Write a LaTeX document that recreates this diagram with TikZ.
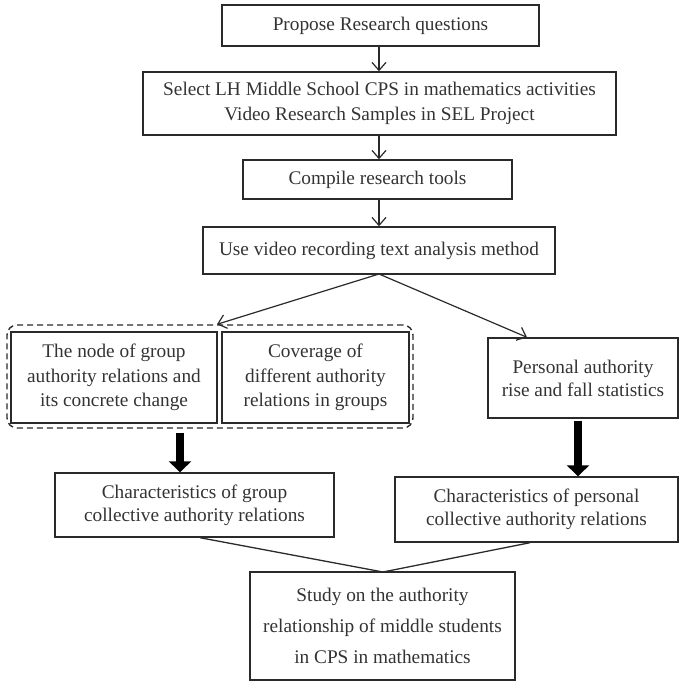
\documentclass[tikz,border=0pt]{standalone}
\usepackage{fontspec}
\setmainfont{Liberation Serif}
\usetikzlibrary{arrows.meta}
\definecolor{ink}{HTML}{2A2A2A}
\definecolor{txt}{HTML}{333333}
\begin{document}
\begin{tikzpicture}[x=1pt,y=-1pt,
  box/.style={draw=ink,line width=1.4pt,inner sep=0pt,align=center,text=txt,
    font=\fontsize{19.3}{24.5}\selectfont},
  thin/.style={draw=ink,line width=1.2pt,-{Straight Barb[length=8pt,width=14pt,line width=1.2pt]}},
  fat/.style={draw=black,line width=8pt,-{Triangle[length=11pt,width=22pt]}},
  plain/.style={draw=ink,line width=1.3pt}]
\useasboundingbox (0,0) rectangle (679,681);
\node[box,minimum width=317pt,minimum height=41pt] (b1) at (380.5,25.5) {Propose Research questions};
\node[box,minimum width=473pt,minimum height=63pt] (b2) at (379.5,103.5) {Select LH Middle School CPS in mathematics activities\\Video Research Samples in SEL Project};
\node[box,minimum width=269pt,minimum height=39pt] (b3) at (377.5,179.5) {Compile research tools};
\node[box,minimum width=352pt,minimum height=47pt] (b4) at (379,250.5) {Use video recording text analysis method};
\node[draw=ink,line width=1.4pt,dashed,dash pattern=on 6pt off 4pt,rounded corners=10pt,minimum width=406pt,minimum height=103pt,inner sep=0pt] (grp) at (210,376.5) {};
\node[box,minimum width=206pt,minimum height=91pt] (g1) at (114,377.5) {The node of group\\authority relations and\\its concrete change};
\node[box,minimum width=187pt,minimum height=91pt] (g2) at (315.5,377.5) {Coverage of\\different authority\\relations in groups};
\node[box,minimum width=190pt,minimum height=80pt,font=\fontsize{19.3}{23}\selectfont] (p1) at (583,378) {Personal authority\\rise and fall statistics};
\node[box,minimum width=279pt,minimum height=64pt,font=\fontsize{19.3}{23}\selectfont] (c1) at (194.5,505) {Characteristics of group\\collective authority relations};
\node[box,minimum width=283pt,minimum height=65pt,font=\fontsize{19.3}{23}\selectfont] (c2) at (536.5,509.5) {Characteristics of personal\\collective authority relations};
\node[box,minimum width=265pt,minimum height=108pt,font=\fontsize{19.3}{31}\selectfont] (s) at (382.5,626) {Study on the authority\\relationship of middle students\\in CPS in mathematics};
\coordinate (split) at (379,274);
\draw[thin] (b1.south -| 379,0) -- (b2.north -| 379,0);
\draw[thin] (b2.south -| 379,0) -- (b3.north -| 379,0);
\draw[thin] (b3.south -| 379,0) -- (b4.north -| 379,0);
\draw[thin] (split) -- (grp.north -| 217,0);
\draw[thin] (split) -- (p1.north -| 527,0);
\draw[fat] (grp.south -| 180,0) ++(0,4) -- (c1.north -| 180,0);
\draw[fat] (p1.south -| 578,0) ++(0,2) -- (c2.north -| 578,0);
\coordinate (join) at (383,572);
\draw[plain] (c1.south -| 200,0) -- (join);
\draw[plain] (c2.south -| 530,0) -- (join);
\end{tikzpicture}
\end{document}
